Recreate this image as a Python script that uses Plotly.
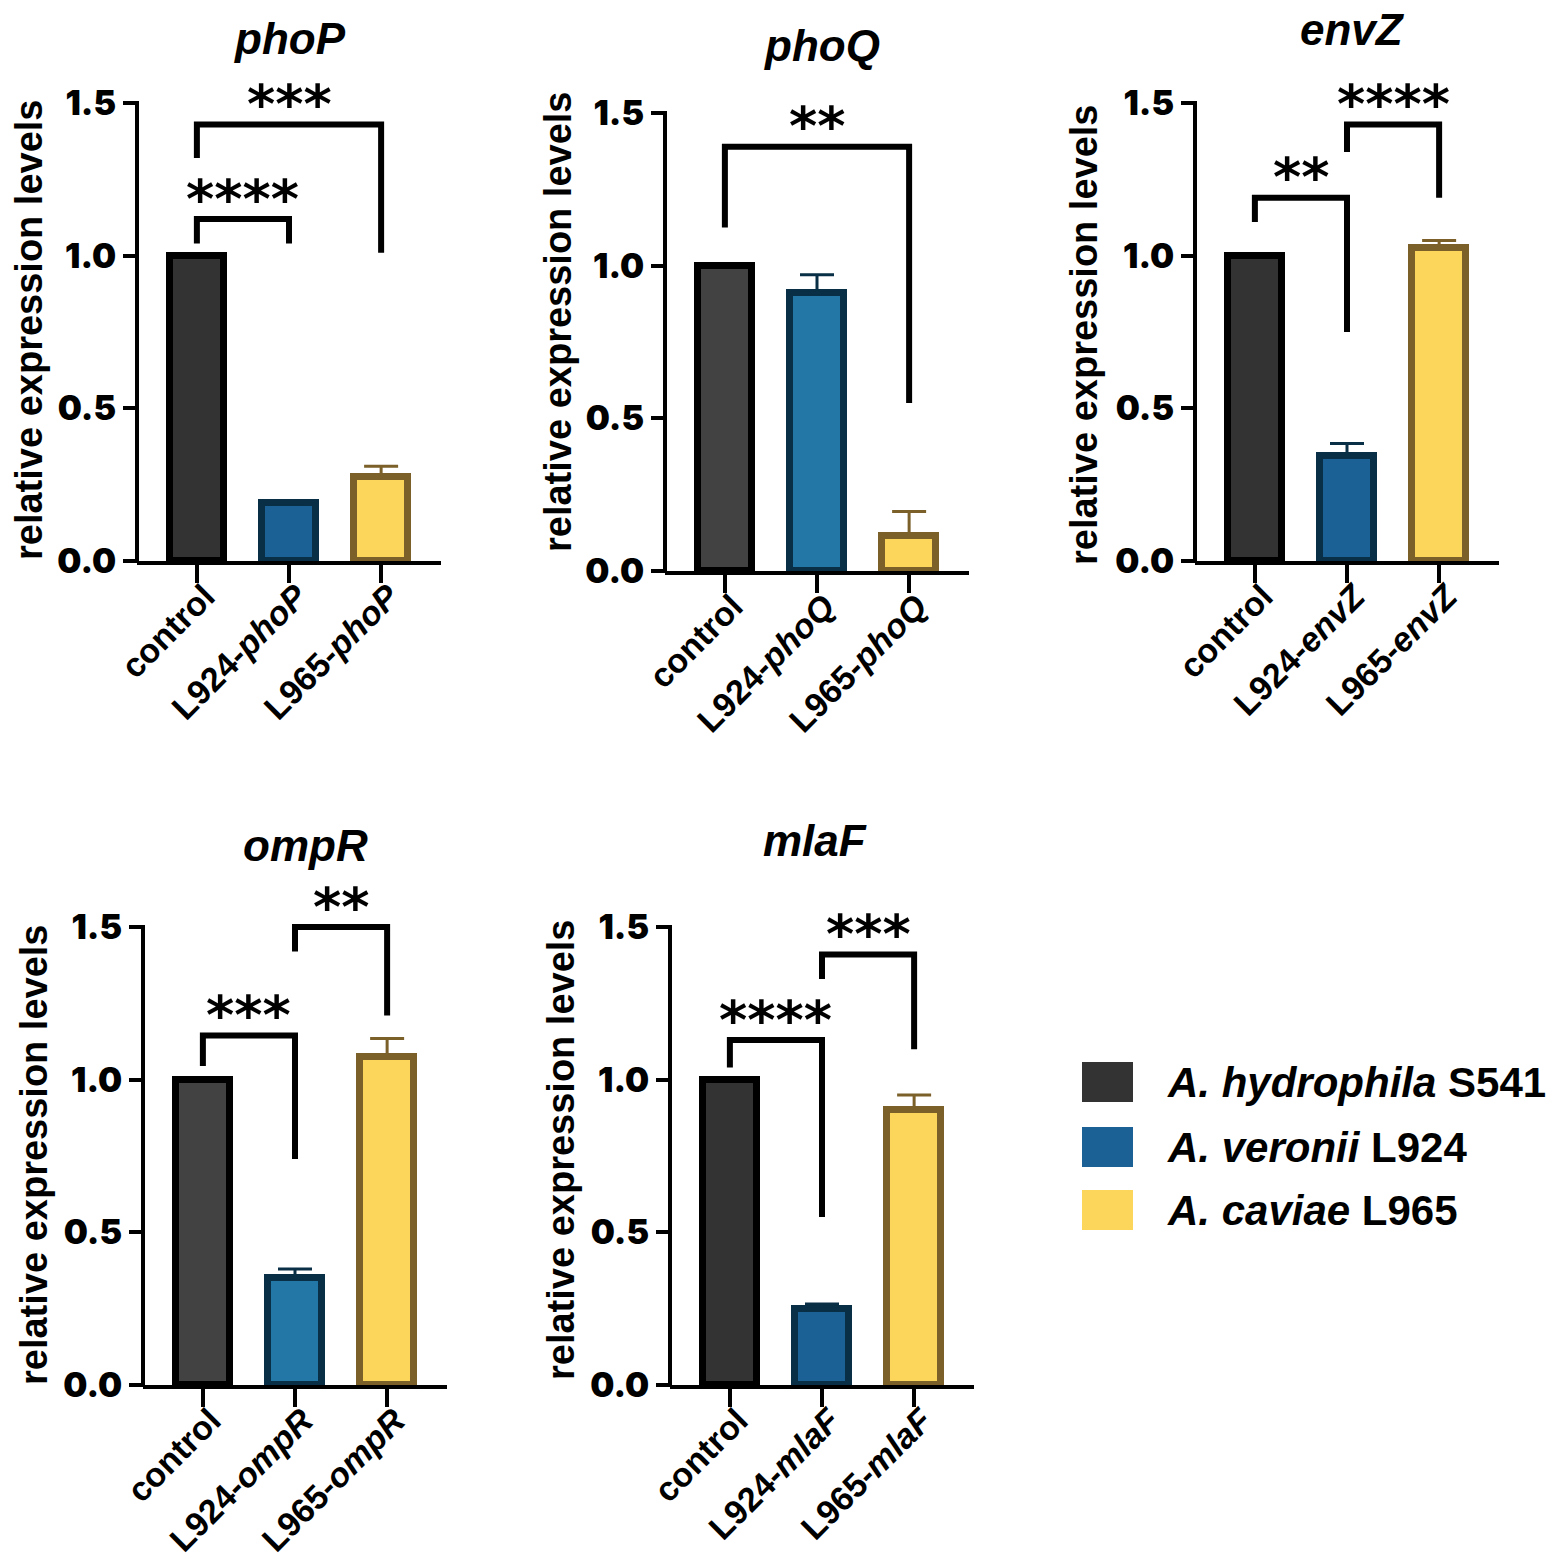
import plotly.graph_objects as go

W, H = 1559, 1566
OFF = 8                      # page body margin
FW, FH = W - 2 * OFF, H - 2 * OFF

# ---- data ----
genes = ["phoP", "phoQ", "envZ", "ompR", "mlaF"]
groups = ["control", "L924", "L965"]

phoP_mean = [1.0, 0.19, 0.275]
phoP_err = [0.0, 0.005, 0.035]
phoQ_mean = [1.0, 0.91, 0.115]
phoQ_err = [0.0, 0.06, 0.08]
envZ_mean = [1.0, 0.345, 1.025]
envZ_err = [0.0, 0.04, 0.025]
ompR_mean = [1.0, 0.35, 1.075]
ompR_err = [0.0, 0.03, 0.06]
mlaF_mean = [1.0, 0.25, 0.90]
mlaF_err = [0.0, 0.015, 0.05]

# significance brackets: (from, to, bracket height, left leg end, right leg end, label)
phoP_sig = [(0, 1, 1.12, 1.04, 1.04, "****"), (0, 2, 1.43, 1.32, 1.01, "***")]
phoQ_sig = [(0, 2, 1.39, 1.125, 0.55, "**")]
envZ_sig = [(0, 1, 1.19, 1.11, 0.75, "**"), (1, 2, 1.43, 1.34, 1.19, "****")]
ompR_sig = [(0, 1, 1.145, 1.045, 0.74, "***"), (1, 2, 1.50, 1.42, 1.21, "**")]
mlaF_sig = [(0, 1, 1.13, 1.04, 0.55, "****"), (1, 2, 1.41, 1.33, 1.10, "***")]

legend_labels = ["<i>A. hydrophila</i> S541", "<i>A. veronii</i> L924", "<i>A. caviae</i> L965"]

means = [phoP_mean, phoQ_mean, envZ_mean, ompR_mean, mlaF_mean]
errs = [phoP_err, phoQ_err, envZ_err, ompR_err, mlaF_err]
sigs = [phoP_sig, phoQ_sig, envZ_sig, ompR_sig, mlaF_sig]

# ---- styling / placement (screen pixels) ----
panels = [
    dict(xl=137, y0=561, title=(290, 38), ytitle=(29, 330)),
    dict(xl=665, y0=571, title=(822, 45), ytitle=(558, 322)),
    dict(xl=1195, y0=561, title=(1352, 29), ytitle=(1084, 335)),
    dict(xl=143, y0=1385, title=(305, 845), ytitle=(34, 1155)),
    dict(xl=670, y0=1385, title=(815, 840), ytitle=(561, 1150)),
]
fills = [
    ["#333333", "#1c6195", "#fcd55b"],
    ["#424242", "#2277a6", "#fcd55b"],
    ["#333333", "#1c6195", "#fcd55b"],
    ["#424242", "#2277a6", "#fcd55b"],
    ["#333333", "#1c6195", "#fcd55b"],
]
outlines = ["#000000", "#082f45", "#7b602a"]
legend_fills = ["#333333", "#1c6195", "#fcd55b"]

PX_W = 304       # plot width in px
PX_UNIT = 305.3  # px per y unit
Y_TOP = 1.72
X_RANGE = [-0.65, 2.65]


def px(x):
    return (x - OFF) / FW


def py(y):
    return 1 - (y - OFF) / FH


num_font = dict(family="Inter, DejaVu Sans", size=34, color="black", weight=900)
cat_font = dict(family="Liberation Sans, Arial", size=34, color="black", weight="bold")
ytitle_font = dict(family="Liberation Sans, Arial", size=38, color="black", weight="bold")
star_font = dict(family="DejaVu Sans", size=54, color="black", weight="bold")

fig = go.Figure()
shapes = []
annotations = []

for k, gene in enumerate(genes):
    p = panels[k]
    n = "" if k == 0 else str(k + 1)
    xa, ya = "x" + n, "y" + n
    top_px = p["y0"] - Y_TOP * PX_UNIT

    for g in range(3):
        err = errs[k][g]
        fig.add_trace(go.Bar(
            x=[g], y=[means[k][g]], width=0.58,
            marker=dict(color=fills[k][g], line=dict(color=outlines[g], width=7)),
            error_y=dict(type="data", array=[err], arrayminus=[0], symmetric=False,
                         color=outlines[g], thickness=3, width=17, visible=err > 0),
            xaxis=xa, yaxis=ya, showlegend=False,
        ))

    ticktext = ["control"] + [f"{g}-<i>{gene}</i>" for g in groups[1:]]
    fig.layout["xaxis" + n] = dict(
        domain=[px(p["xl"]), px(p["xl"] + PX_W)], anchor=ya, range=X_RANGE,
        tickvals=[0, 1, 2], ticktext=ticktext, tickangle=-45, tickfont=cat_font,
        showline=True, linecolor="black", linewidth=4, ticks="outside", ticklen=18,
        tickwidth=4, tickcolor="black", showgrid=False, zeroline=False, fixedrange=True,
        automargin=False, ticklabelstandoff=-20, ticklabelshift=8,
    )
    fig.layout["yaxis" + n] = dict(
        domain=[py(p["y0"]), py(top_px)], anchor=xa, range=[0, Y_TOP],
        tickvals=[0, 0.5, 1.0, 1.5], ticktext=["0.0", "0.5", "1.0", "1.5"], tickfont=num_font,
        showline=False, ticks="outside", ticklen=13, tickwidth=4, tickcolor="black",
        showgrid=False, zeroline=False, fixedrange=True, automargin=False,
    )
    # y axis line only up to 1.5
    shapes.append(dict(type="line", xref="paper", yref="paper",
                       x0=px(p["xl"]), x1=px(p["xl"]),
                       y0=py(p["y0"] + 2), y1=py(p["y0"] - 1.5 * PX_UNIT - 2),
                       line=dict(color="black", width=4)))

    for (i, j, yb, yl, yr, lab) in sigs[k]:
        shapes.append(dict(type="path", xref=xa, yref=ya,
                           path=f"M {i},{yl} L {i},{yb} L {j},{yb} L {j},{yr}",
                           line=dict(color="black", width=6)))
        annotations.append(dict(x=(i + j) / 2, y=yb, xref=xa, yref=ya, text=lab,
                                showarrow=False, yanchor="middle", yshift=20,
                                font=star_font))

    annotations.append(dict(x=px(p["title"][0]), y=py(p["title"][1]), xref="paper",
                            yref="paper", text=f"<i>{gene}</i>", showarrow=False,
                            xanchor="center", yanchor="middle",
                            font=dict(family="Liberation Sans, Arial", size=44,
                                      color="black", weight="bold")))
    annotations.append(dict(x=px(p["ytitle"][0]), y=py(p["ytitle"][1]), xref="paper",
                            yref="paper", text="relative expression levels", textangle=-90,
                            showarrow=False, xanchor="center", yanchor="middle",
                            font=ytitle_font))

# legend drawn by hand
leg_y = [1082, 1147, 1210]
for lab, col, yc in zip(legend_labels, legend_fills, leg_y):
    shapes.append(dict(type="rect", xref="paper", yref="paper",
                       x0=px(1082), x1=px(1133), y0=py(yc + 20), y1=py(yc - 20),
                       fillcolor=col, line=dict(width=0)))
    annotations.append(dict(x=px(1165), y=py(yc), xref="paper", yref="paper", text=lab,
                            showarrow=False, xanchor="left", yanchor="middle",
                            font=dict(family="Liberation Sans, Arial", size=42,
                                      color="black", weight="bold")))

fig.update_layout(
    template="none",
    width=FW, height=FH, margin=dict(l=0, r=0, t=0, b=0, autoexpand=False),
    paper_bgcolor="white", plot_bgcolor="white",
    shapes=shapes, annotations=annotations, showlegend=False, bargap=0,
)

fig.write_html("out.html")
